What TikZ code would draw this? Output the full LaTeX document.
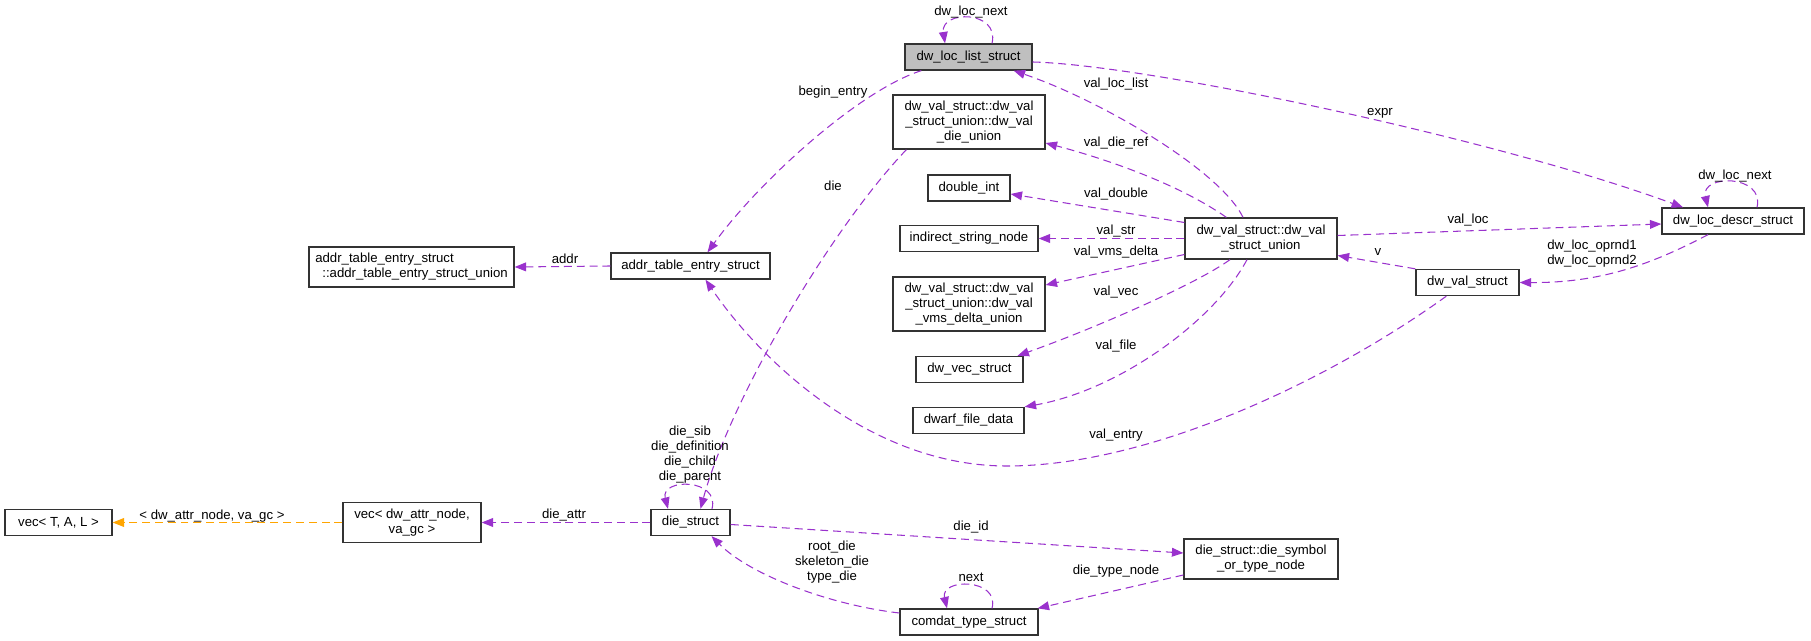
\documentclass[tikz,border=0pt]{standalone}
\usepackage{fontspec}
\setmainfont{Liberation Sans}
\usepackage{tikz}
\usetikzlibrary{calc}
\usetikzlibrary{arrows.meta}

\definecolor{mbrcol}{HTML}{9A32CD}
\definecolor{tplcol}{HTML}{FFA500}

\tikzset{
  cls/.style={draw=black!80, line width=0.75pt, fill=white, inner sep=0pt,
    minimum height=0.52cm, align=center, font=\fontsize{7.5}{8.5}\selectfont},
  mbr/.style={draw=mbrcol, line width=0.6pt, dash pattern=on 4.5pt off 2.8pt,
    -{Triangle[length=6.5pt,width=5pt]}},
  tpl/.style={mbr, draw=tplcol},
  lbl/.style={inner sep=0pt, align=center, font=\fontsize{7.5}{8.5}\selectfont},
}

\begin{document}
\begin{tikzpicture}[x=0.02cm,y=-0.02cm]
\useasboundingbox (0,0) rectangle (1811,641);

% classes
\node[cls, fill=black!25, minimum width=2.54cm] (loclist) at (968.5,57) {dw\_loc\_list\_struct};
\node[cls, minimum width=3.04cm, minimum height=1.08cm] (dieunion) at (969,122)
   {dw\_val\_struct::dw\_val\\\_struct\_union::dw\_val\\\_die\_union};
\node[cls, minimum width=1.64cm] (doubleint) at (969,188) {double\_int};
\node[cls, minimum width=2.76cm] (indirect) at (969,238.5) {indirect\_string\_node};
\node[cls, minimum width=3.04cm, minimum height=1.08cm] (vmsunion) at (969,304)
   {dw\_val\_struct::dw\_val\\\_struct\_union::dw\_val\\\_vms\_delta\_union};
\node[cls, minimum width=2.14cm] (vecstruct) at (969.5,369.5) {dw\_vec\_struct};
\node[cls, minimum width=2.22cm] (dwarffile) at (968.5,420.5) {dwarf\_file\_data};
\node[cls, minimum width=3.04cm, minimum height=0.82cm] (valunion) at (1261,238.5)
   {dw\_val\_struct::dw\_val\\\_struct\_union};
\node[cls, minimum width=2.84cm] (locdescr) at (1733,221) {dw\_loc\_descr\_struct};
\node[cls, minimum width=2.06cm] (valstruct) at (1467.5,282.5) {dw\_val\_struct};
\node[cls, minimum width=3.18cm] (addrentry) at (690.5,266) {addr\_table\_entry\_struct};
\node[cls, minimum width=4.10cm, minimum height=0.80cm, align=left] (addrunion) at (411.5,267)
   {addr\_table\_entry\_struct\\\hspace*{4pt}::addr\_table\_entry\_struct\_union};
\node[cls, minimum width=2.14cm] (vectal) at (58.5,522.5) {vec< T, A, L >};
\node[cls, minimum width=2.76cm, minimum height=0.80cm] (vecattr) at (412,522.5)
   {vec< dw\_attr\_node,\\va\_gc >};
\node[cls, minimum width=1.58cm] (diestruct) at (690.5,522.5) {die\_struct};
\node[cls, minimum width=3.08cm, minimum height=0.80cm] (symunion) at (1261,559)
   {die\_struct::die\_symbol\\\_or\_type\_node};
\node[cls, minimum width=2.76cm] (comdat) at (969,622) {comdat\_type\_struct};

% members
\draw[mbr] ($(loclist.north)+(23.5,0)$) .. controls (1000,10) and (940,10) .. ($(loclist.north)+(-23.5,0)$);
\node[lbl] (l_locnext) at (971,12) {dw\_loc\_next};

\draw[mbr] ($(loclist.south west)+(17,0)$) .. controls (860,90) and (760,180) .. ($(addrentry.north)+(17,0)$);
\node[lbl] (l_begin) at (833,92) {begin\_entry};

\draw[mbr] ($(valunion.north)+(-18,0)$) .. controls (1220,170) and (1100,100) .. ($(loclist.south east)+(-19,0)$);
\node[lbl] (l_loclist) at (1116,84) {val\_loc\_list};

\draw[mbr] ($(loclist.east)+(0,5)$) .. controls (1150,65) and (1500,140) .. ($(locdescr.north)+(-50,0)$);
\node[lbl] (l_expr) at (1380,113) {expr};

\draw[mbr] ($(dieunion.south west)+(14,0)$) .. controls (830,230) and (730,400) .. ($(diestruct.north)+(10,0)$);
\node[lbl] (l_die) at (833,186) {die};

\draw[mbr] ($(valunion.north west)+(42,0)$) .. controls (1180,185) and (1110,160) .. ($(dieunion.east)+(0,21)$);
\node[lbl] (l_dieref) at (1116,143) {val\_die\_ref};

\draw[mbr] ($(valunion.west)+(0,-16)$) -- ($(doubleint.east)+(0,6)$);
\node[lbl] (l_double) at (1116,194) {val\_double};

\draw[mbr] (valunion.west) -- (indirect.east);
\node[lbl] (l_str) at (1116,231) {val\_str};

\draw[mbr] ($(valunion.west)+(0,16)$) -- ($(vmsunion.east)+(0,-19)$);
\node[lbl] (l_vms) at (1116,252) {val\_vms\_delta};

\draw[mbr] ($(valunion.south)+(-31,0)$) .. controls (1195,285) and (1090,330) .. ($(vecstruct.north)+(48,0)$);
\node[lbl] (l_vec) at (1116,292) {val\_vec};

\draw[mbr] ($(valunion.south)+(-14,0)$) .. controls (1215,320) and (1120,390) .. (dwarffile.north east);
\node[lbl] (l_file) at (1116,346) {val\_file};

\draw[mbr] ($(valunion.east)+(0,-3)$) -- ($(locdescr.west)+(0,3)$);
\node[lbl] (l_loc) at (1468,220) {val\_loc};

\draw[mbr] (valstruct.north west) -- ($(valunion.east)+(0,17)$);
\node[lbl] (l_v) at (1378,252) {v};

\draw[mbr] ($(locdescr.south)+(-25,0)$) .. controls (1650,265) and (1600,283) .. (valstruct.east);
\node[lbl] (l_oprnd) at (1592,254) {dw\_loc\_oprnd1\\dw\_loc\_oprnd2};

\draw[mbr] ($(locdescr.north)+(24,0)$) .. controls (1765,174) and (1700,174) .. ($(locdescr.north)+(-25,0)$);
\node[lbl] (l_descrnext) at (1735,176) {dw\_loc\_next};

\draw[mbr] (addrentry.west) -- (addrunion.east);
\node[lbl] (l_addr) at (565,259) {addr};

\draw[mbr] ($(valstruct.south west)+(31,0)$) .. controls (1330,380) and (1150,466) .. (1007,466)
   .. controls (870,466) and (760,360) .. ($(addrentry.south)+(15,0)$);
\node[lbl] (l_entry) at (1116,435) {val\_entry};

\draw[tpl] (vecattr.west) -- (vectal.east);
\node[lbl] (l_tpl) at (212,516) {< dw\_attr\_node, va\_gc >};

\draw[mbr] (diestruct.west) -- (vecattr.east);
\node[lbl] (l_attr) at (564,515) {die\_attr};

\draw[mbr] ($(diestruct.north)+(21.5,0)$) .. controls (720,478) and (660,478) .. ($(diestruct.north)+(-22.5,0)$);
\node[lbl] (l_dieself) at (690,454.5) {die\_sib\\die\_definition\\die\_child\\die\_parent};

\draw[mbr] ($(diestruct.east)+(0,2)$) -- ($(symunion.west)+(0,-6)$);
\node[lbl] (l_dieid) at (971,527) {die\_id};

\draw[mbr] ($(symunion.west)+(0,16)$) -- ($(comdat.north east)+(-1,0)$);
\node[lbl] (l_typenode) at (1116,571) {die\_type\_node};

\draw[mbr] ($(comdat.west)+(0,-9)$) .. controls (830,605) and (750,575) .. ($(diestruct.south)+(21,0)$);
\node[lbl] (l_rootdie) at (832,562.5) {root\_die\\skeleton\_die\\type\_die};

\draw[mbr] ($(comdat.north)+(23,0)$) .. controls (1000,578) and (940,578) .. ($(comdat.north)+(-22,0)$);
\node[lbl] (l_next) at (971,577) {next};
\end{tikzpicture}
\end{document}
